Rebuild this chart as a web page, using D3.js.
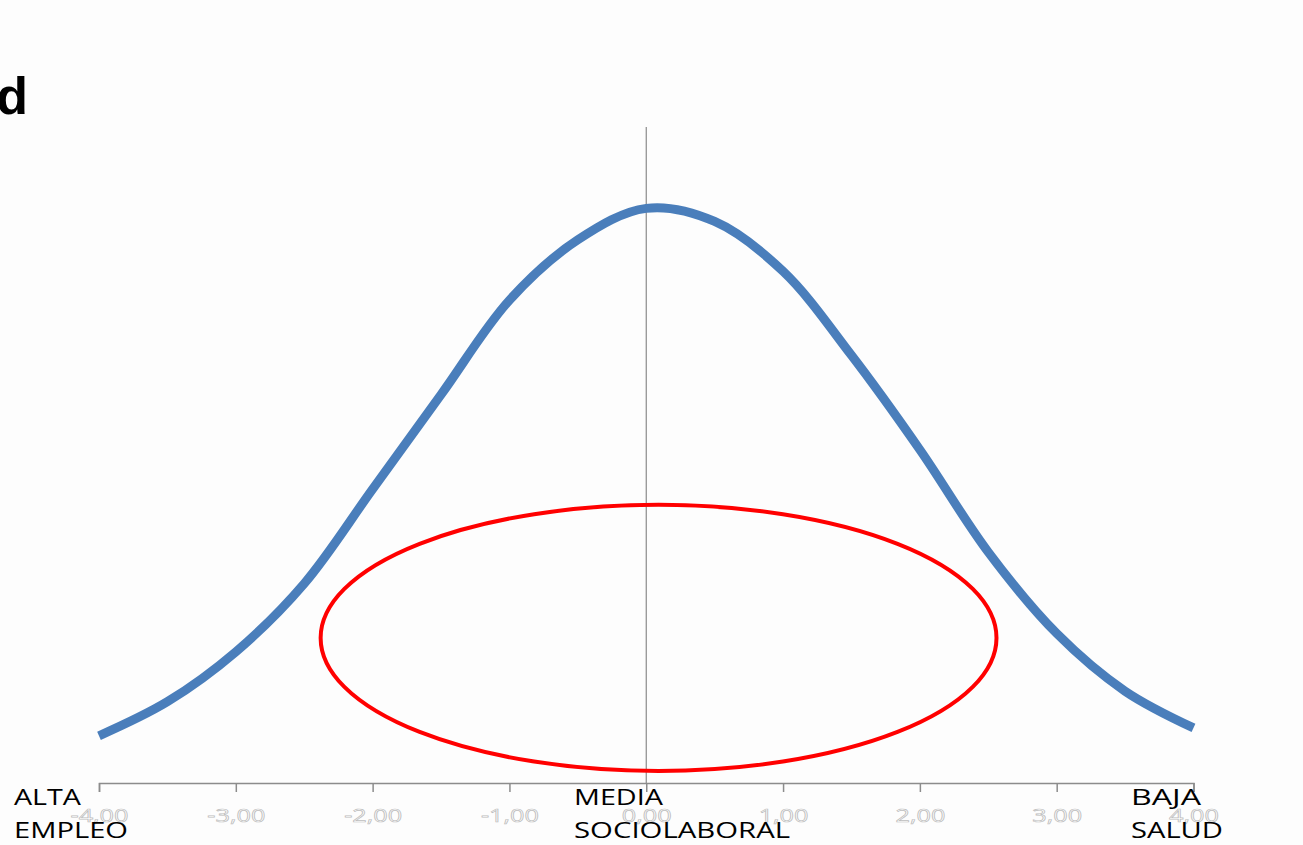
<!DOCTYPE html>
<html lang="es">

<head>
    <meta charset="UTF-8">
    <meta name="viewport" content="width=device-width, initial-scale=1.0">
    <title>Curva normal</title>
    <script src="https://d3js.org/d3.v7.min.js"></script>

    <style>
        body {
            margin: 0;
            overflow: hidden;
            background-color: #fdfdfd;
        }

        .curve {
            fill: none;
            stroke: #4a7ebb;
            stroke-width: 9px;
        }

        .highlight {
            fill: none;
            stroke: #ff0000;
            stroke-width: 4px;
        }

        .zero-line {
            stroke: #8a8a8a;
            stroke-width: 1.2px;
        }

        .x-axis path,
        .x-axis line {
            stroke: #8c8c8c;
            stroke-width: 1.5px;
        }

        .x-axis text {
            font-family: "Open Sans", sans-serif;
            font-size: 19px;
            fill: #ffffff;
            stroke: #bdbdbd;
            stroke-width: 0.7px;
        }

        .label {
            font-family: "Open Sans", sans-serif;
            font-size: 21px;
            fill: #000;
        }

        .title {
            font-family: "Liberation Sans", Arial, sans-serif;
            font-weight: bold;
            font-size: 52px;
            fill: #000;
        }
    </style>
</head>

<body>
    <div id="chart"></div>
</body>

<script>
    // values
    const xValues = [-4, -3.5, -3, -2.5, -2, -1.5, -1, -0.5, 0, 0.5, 1, 1.5, 2, 2.5, 3, 3.5, 4];
    const yValues = [0.018, 0.031, 0.050, 0.076, 0.112, 0.148, 0.184, 0.207, 0.219, 0.214, 0.195, 0.163, 0.127, 0.088, 0.057, 0.035, 0.021];
    const xTicks = [-4, -3, -2, -1, 0, 1, 2, 3, 4];

    // red ring: centre and radii in data units
    const ringCenter = [0.09, 0.0553];
    const ringRadius = [2.47, 0.0507];

    const groupLabels = [
        { x: -4, lines: ["ALTA", "EMPLEO"] },
        { x: 0, lines: ["MEDIA", "SOCIOLABORAL"] },
        { x: 4, lines: ["BAJA", "SALUD"] }
    ];

    const width = 1303;
    const height = 845;

    const svg = d3.select("#chart")
        .append("svg")
        .attr("width", width)
        .attr("height", height);

    const x = d3.scaleLinear().domain([-4, 4]).range([99, 1193.5]);
    const y = d3.scaleLinear().domain([0, 0.25]).range([783, 127]);

    const locale = d3.formatLocale({ decimal: ",", thousands: ".", grouping: [3], currency: ["", " €"], minus: "-" });
    const fmt = locale.format(".2f");

    // vertical line at zero
    svg.append("line")
        .attr("class", "zero-line")
        .attr("x1", x(0)).attr("x2", x(0))
        .attr("y1", y(0.25)).attr("y2", y(0));

    const points = xValues.map((v, i) => [v, yValues[i]]);
    const line = d3.line()
        .x(d => x(d[0]))
        .y(d => y(d[1]))
        .curve(d3.curveCatmullRom.alpha(0.5));

    svg.append("path")
        .datum(points)
        .attr("class", "curve")
        .attr("d", line);

    svg.append("ellipse")
        .attr("class", "highlight")
        .attr("cx", x(ringCenter[0]))
        .attr("cy", y(ringCenter[1]))
        .attr("rx", x(ringRadius[0]) - x(0))
        .attr("ry", y(0) - y(ringRadius[1]));

    const xAxis = d3.axisBottom(x)
        .tickValues(xTicks)
        .tickFormat(fmt)
        .tickSize(9)
        .tickPadding(17);

    const axisG = svg.append("g")
        .attr("class", "x-axis")
        .attr("transform", `translate(0,${y(0)})`)
        .call(xAxis);

    // the picture's text is stretched sideways
    axisG.selectAll(".tick text").each(function () {
        const w = this.getComputedTextLength();
        d3.select(this)
            .attr("textLength", w * 1.33)
            .attr("lengthAdjust", "spacingAndGlyphs");
    });

    const labelLeft = [14, 574, 1131];
    const labelWidths = [[67, 114], [89, 216], [70, 92]];
    const baselines = [805, 838];

    groupLabels.forEach((g, i) => {
        g.lines.forEach((t, j) => {
            svg.append("text")
                .attr("class", "label")
                .attr("x", labelLeft[i])
                .attr("y", baselines[j])
                .attr("textLength", labelWidths[i][j])
                .attr("lengthAdjust", "spacingAndGlyphs")
                .text(t);
        });
    });

    svg.append("text")
        .attr("class", "title")
        .attr("x", 28)
        .attr("y", 114)
        .attr("text-anchor", "end")
        .text("d");
</script>

</html>
